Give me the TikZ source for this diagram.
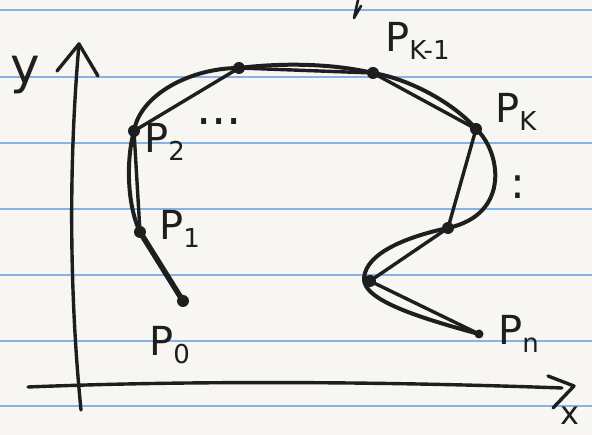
\documentclass[tikz,border=0pt]{standalone}
\usepackage{fontspec}
\newfontfamily\handfont{DejaVu Sans}
\definecolor{ink}{HTML}{1E1E1E}
\definecolor{rulecol}{HTML}{86B2E4}
\definecolor{paper}{HTML}{F7F6F3}
\newcommand{\ptlab}[1]{{\handfont\fontsize{40}{40}\selectfont P\raisebox{-8pt}{\fontsize{26}{26}\selectfont #1}}}
\begin{document}
\begin{tikzpicture}[x=1pt,y=-1pt,
  rulestyle/.style={draw=rulecol,line width=1.8pt},
  axisline/.style={draw=ink,line width=3.4pt,line cap=round,line join=round},
  curveline/.style={draw=ink,line width=4pt,line cap=round,line join=round},
  polyline/.style={draw=ink,line width=3.4pt,line cap=round,line join=round},
  dotnode/.style={circle,fill=ink,minimum size=12pt,inner sep=0pt},
  labnode/.style={inner sep=0pt,anchor=base west,text=ink},
]
\useasboundingbox (0,0) rectangle (592,435);
\fill[paper] (0,0) rectangle (592,435);
% ruled lines
\foreach \yy in {10,77,143,209,275,341,406} \draw[rulestyle] (0,\yy) -- (592,\yy);

% axes
\coordinate (ytip) at (79,44);
\coordinate (ybot) at (81,410);
\coordinate (xleft) at (28,387);
\coordinate (xtip) at (574,386);
\draw[axisline] (ybot) .. controls (70,300) and (68,170) .. (ytip);
\draw[axisline] (57,71) -- (ytip) -- (98,76);
\draw[axisline] (xleft) .. controls (200,380) and (400,382) .. (562,388);
\draw[axisline] (548,376) -- (xtip) -- (553,408);
% stray stroke at top
\draw[axisline,line width=2.6pt] (358,0) -- (354,18) -- (361,6);

% points
\node[dotnode] (p0) at (183,301) {};
\node[dotnode] (p1) at (140,232) {};
\node[dotnode] (p2) at (134,131) {};
\node[dotnode] (p3) at (239,68) {};
\node[dotnode] (pk1) at (373,73) {};
\node[dotnode] (pk) at (476,129) {};
\node[dotnode] (q1) at (448,228) {};
\node[dotnode] (q2) at (370,281) {};
\node[dotnode,minimum size=9pt] (pn) at (479,334) {};

% control polygon
\draw[polyline] (p0.center) -- (p1.center) -- (p2.center) -- (p3.center) -- (pk1.center) -- (pk.center) -- (q1.center) -- (q2.center) -- (pn.center);
\draw[polyline,line width=5.5pt] (p0.center) -- (p1.center);

% smooth curve
\draw[curveline] (p1.center) .. controls (127,205) and (126,160) .. (p2.center)
  .. controls (140,95) and (190,68) .. (p3.center)
  .. controls (280,63) and (330,63) .. (pk1.center)
  .. controls (410,79) and (455,104) .. (pk.center)
  .. controls (500,150) and (512,214) .. (q1.center)
  .. controls (410,236) and (366,252) .. (364,278)
  .. controls (362,300) and (420,318) .. (pn.center);

% labels
\node[labnode] (l0) at (149,356) {\ptlab{0}};
\node[labnode] (l1) at (159,240) {\ptlab{1}};
\node[labnode] (l2) at (144,153) {\ptlab{2}};
\node[labnode] (lk1) at (385,52) {\ptlab{K-1}};
\node[labnode] (lk) at (495,123) {\ptlab{K}};
\node[labnode] (ln) at (498,345) {\ptlab{n}};
\node[labnode] (ly) at (10,84) {\handfont\fontsize{50}{50}\selectfont y};
\node[labnode] (lx) at (560,425) {\handfont\fontsize{32}{32}\selectfont x};
\node[labnode] (dots) at (196,125) {\handfont\fontsize{48}{48}\selectfont ...};
\node[labnode,anchor=base] (vdots) at (518,199) {\handfont\fontsize{44}{44}\selectfont :};
\end{tikzpicture}
\end{document}
